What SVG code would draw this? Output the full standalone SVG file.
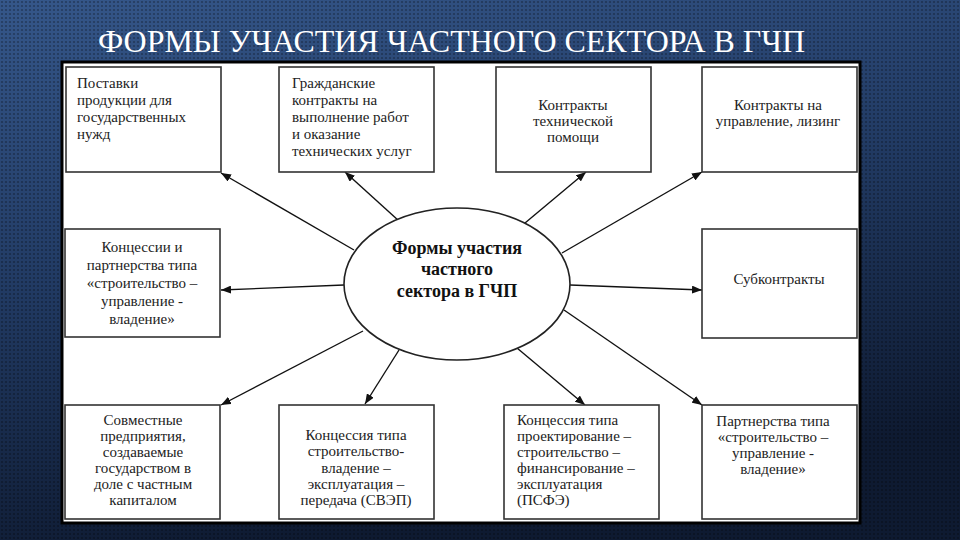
<svg xmlns="http://www.w3.org/2000/svg" width="960" height="540" viewBox="0 0 960 540">
  <defs>
    <linearGradient id="bg" x1="0" y1="0" x2="0.3" y2="1">
      <stop offset="0" stop-color="#35578a"/>
      <stop offset="0.5" stop-color="#213a63"/>
      <stop offset="1" stop-color="#0e1a31"/>
    </linearGradient>
    <pattern id="dots" width="4" height="4" patternUnits="userSpaceOnUse">
      <circle cx="2" cy="2" r="1.1" fill="#000" fill-opacity="0.3"/>
    </pattern>
    <marker id="arr" viewBox="0 0 10 8" refX="10" refY="4" markerWidth="10" markerHeight="8" markerUnits="userSpaceOnUse" orient="auto">
      <path d="M0,0 L10,4 L0,8 z" fill="#111"/>
    </marker>
    <style>
      text { font-family: 'Liberation Serif', Tinos, 'Times New Roman', 'DejaVu Serif', 'Noto Serif', serif; }
      .box { fill: #fff; stroke: #333; stroke-width: 1.6; }
      .t { font-size: 15px; fill: #222; }
      .c { text-anchor: middle; }
      .b { font-size: 18px; font-weight: bold; fill: #111; }
      .conn line { stroke: #111; stroke-width: 1.4; marker-end: url(#arr); }
    </style>
  </defs>
  <rect width="960" height="540" fill="url(#bg)"/>
  <rect width="960" height="540" fill="url(#dots)"/>
  <text x="98" y="52" font-size="32" fill="#fff" textLength="707" lengthAdjust="spacingAndGlyphs">ФОРМЫ УЧАСТИЯ ЧАСТНОГО СЕКТОРА В ГЧП</text>
  <rect x="62" y="62" width="798" height="461" fill="#fff" stroke="#000" stroke-width="3"/>

  <g class="conn" id="connectors">
    <line x1="354" y1="250" x2="221" y2="173"/>
    <line x1="399" y1="221" x2="345" y2="172"/>
    <line x1="525" y1="223" x2="586" y2="172"/>
    <line x1="562" y1="253" x2="702" y2="172"/>
    <line x1="344" y1="285" x2="221" y2="290"/>
    <line x1="570" y1="285" x2="702" y2="290"/>
    <line x1="363" y1="331" x2="221" y2="405"/>
    <line x1="399" y1="350" x2="365" y2="404"/>
    <line x1="517" y1="348" x2="585" y2="405"/>
    <line x1="564" y1="310" x2="702" y2="405"/>
  </g>

  <g id="center">
    <ellipse cx="457" cy="284" rx="113" ry="76" fill="#fff" stroke="#222" stroke-width="1.6"/>
    <text class="b c" x="457" y="254">Формы участия</text>
    <text class="b c" x="457" y="275">частного</text>
    <text class="b c" x="457" y="297">сектора в ГЧП</text>
  </g>

  <g id="n1">
    <rect class="box" x="66" y="67" width="155" height="105"/>
    <text class="t" x="77" y="88">Поставки</text>
    <text class="t" x="77" y="105">продукции для</text>
    <text class="t" x="77" y="122">государственных</text>
    <text class="t" x="77" y="139">нужд</text>
  </g>
  <g id="n2">
    <rect class="box" x="279" y="67" width="155" height="105"/>
    <text class="t" x="292" y="88">Гражданские</text>
    <text class="t" x="292" y="105">контракты на</text>
    <text class="t" x="292" y="122">выполнение работ</text>
    <text class="t" x="292" y="139">и оказание</text>
    <text class="t" x="292" y="156">технических услуг</text>
  </g>
  <g id="n3">
    <rect class="box" x="496" y="67" width="155" height="105"/>
    <text class="t c" x="573" y="110">Контракты</text>
    <text class="t c" x="573" y="126">технической</text>
    <text class="t c" x="573" y="142">помощи</text>
  </g>
  <g id="n4">
    <rect class="box" x="702" y="67" width="155" height="105"/>
    <text class="t c" x="778" y="110">Контракты на</text>
    <text class="t c" x="778" y="126">управление, лизинг</text>
  </g>
  <g id="n5">
    <rect class="box" x="65" y="229" width="155" height="108"/>
    <text class="t c" x="142" y="252">Концессии и</text>
    <text class="t c" x="142" y="270">партнерства типа</text>
    <text class="t c" x="142" y="288">«строительство –</text>
    <text class="t c" x="142" y="306">управление -</text>
    <text class="t c" x="142" y="324">владение»</text>
  </g>
  <g id="n6">
    <rect class="box" x="702" y="229" width="155" height="109"/>
    <text class="t c" x="779" y="284">Субконтракты</text>
  </g>
  <g id="n7">
    <rect class="box" x="65" y="405" width="155" height="114"/>
    <text class="t c" x="143" y="425">Совместные</text>
    <text class="t c" x="143" y="441">предприятия,</text>
    <text class="t c" x="143" y="457">создаваемые</text>
    <text class="t c" x="143" y="473">государством в</text>
    <text class="t c" x="143" y="489">доле с частным</text>
    <text class="t c" x="143" y="505">капиталом</text>
  </g>
  <g id="n8">
    <rect class="box" x="279" y="405" width="155" height="114"/>
    <text class="t c" x="356" y="440">Концессия типа</text>
    <text class="t c" x="356" y="456">строительство-</text>
    <text class="t c" x="356" y="473">владение –</text>
    <text class="t c" x="356" y="489">эксплуатация –</text>
    <text class="t c" x="356" y="505">передача (СВЭП)</text>
  </g>
  <g id="n9">
    <rect class="box" x="504" y="405" width="155" height="114"/>
    <text class="t" x="517" y="425">Концессия типа</text>
    <text class="t" x="517" y="441">проектирование –</text>
    <text class="t" x="517" y="457">строительство –</text>
    <text class="t" x="517" y="473">финансирование –</text>
    <text class="t" x="517" y="489">эксплуатация</text>
    <text class="t" x="517" y="505">(ПСФЭ)</text>
  </g>
  <g id="n10">
    <rect class="box" x="702" y="405" width="155" height="114"/>
    <text class="t c" x="773" y="426">Партнерства типа</text>
    <text class="t c" x="773" y="442">«строительство –</text>
    <text class="t c" x="773" y="458">управление -</text>
    <text class="t c" x="773" y="474">владение»</text>
  </g>
</svg>
